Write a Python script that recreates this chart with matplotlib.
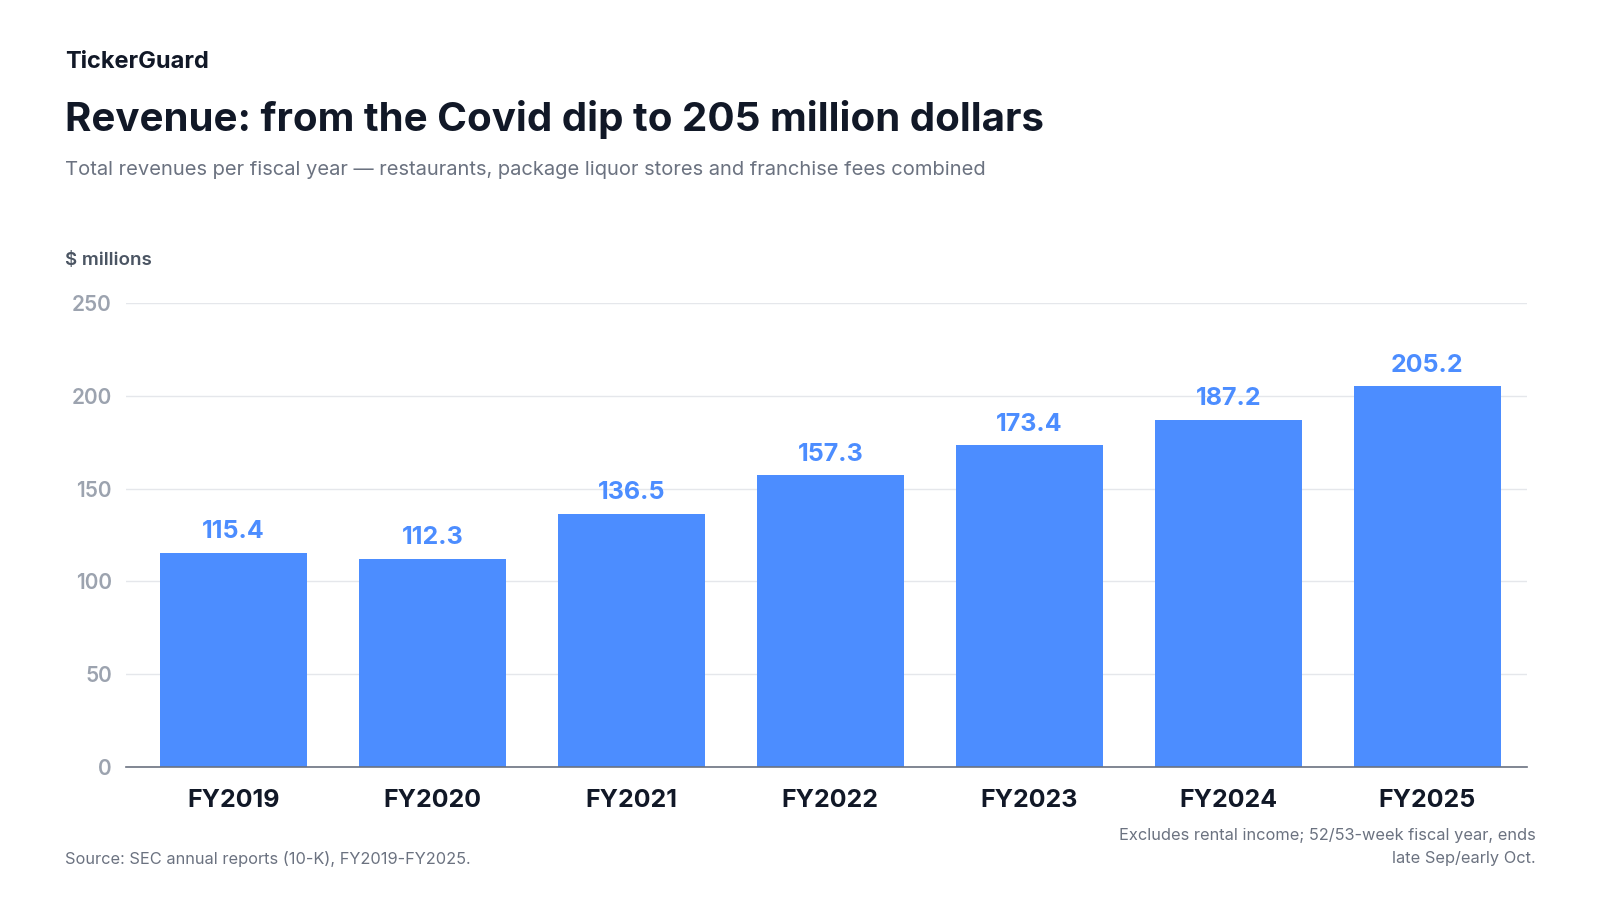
import matplotlib.pyplot as plt
import numpy as np

years = ['FY2019', 'FY2020', 'FY2021', 'FY2022', 'FY2023', 'FY2024', 'FY2025']
revenue = [115.4, 112.3, 136.5, 157.3, 173.4, 187.2, 205.2]
yticks = [0, 50, 100, 150, 200, 250]

plt.rcParams['font.family'] = ['Inter', 'DejaVu Sans']

fig = plt.figure(figsize=(16, 9), dpi=100)
ax = fig.add_axes([0.0786, 0.1478, 0.8757, 0.5156])

x = np.arange(len(years))
bar_color = '#4C8DFF'
ax.bar(x, revenue, width=0.74, color=bar_color, zorder=2)
for a, b in zip(x, revenue):
    ax.text(a, b + 5, f'{b:.1f}', ha='center', va='bottom', fontsize=18,
            fontweight='bold', color=bar_color)

ax.set_xlim(-0.54, 6.5)
ax.set_ylim(0, 250)
ax.set_yticks(yticks)
ax.set_xticks(x)
ax.set_xticklabels(years, fontsize=18, fontweight='bold', color='#111827')
ax.tick_params(axis='y', labelsize=15, colors='#9CA3AF', length=0, pad=10)
ax.tick_params(axis='x', length=0, pad=16)
for lbl in ax.get_yticklabels():
    lbl.set_color('#9CA3AF')
    lbl.set_fontweight('semibold')
ax.grid(axis='y', color='#E5E7EB', linewidth=1, zorder=0)
for s in ['top', 'right', 'left']:
    ax.spines[s].set_visible(False)
ax.spines['bottom'].set_color('#6B7280')
ax.spines['bottom'].set_linewidth(1.2)

fig.text(0.0406, 0.931, 'TickerGuard', fontsize=17, fontweight='bold', color='#111827', va='center')
fig.text(0.0406, 0.867, 'Revenue: from the Covid dip to 205 million dollars', fontsize=29,
         fontweight='bold', color='#111827', va='center')
fig.text(0.0406, 0.811, 'Total revenues per fiscal year \u2014 restaurants, package liquor stores and franchise fees combined',
         fontsize=14.5, color='#6B7280', va='center')
fig.text(0.0406, 0.711, '$ millions', fontsize=13.5, fontweight='semibold', color='#4B5563', va='center')
fig.text(0.0406, 0.046, 'Source: SEC annual reports (10-K), FY2019-FY2025.', fontsize=11.8,
         color='#6B7280', va='center')
fig.text(0.960, 0.059, 'Excludes rental income; 52/53-week fiscal year, ends\nlate Sep/early Oct.',
         fontsize=11.8, color='#6B7280', ha='right', va='center', linespacing=1.6)

fig.savefig('out.png', dpi=100, facecolor='white')
